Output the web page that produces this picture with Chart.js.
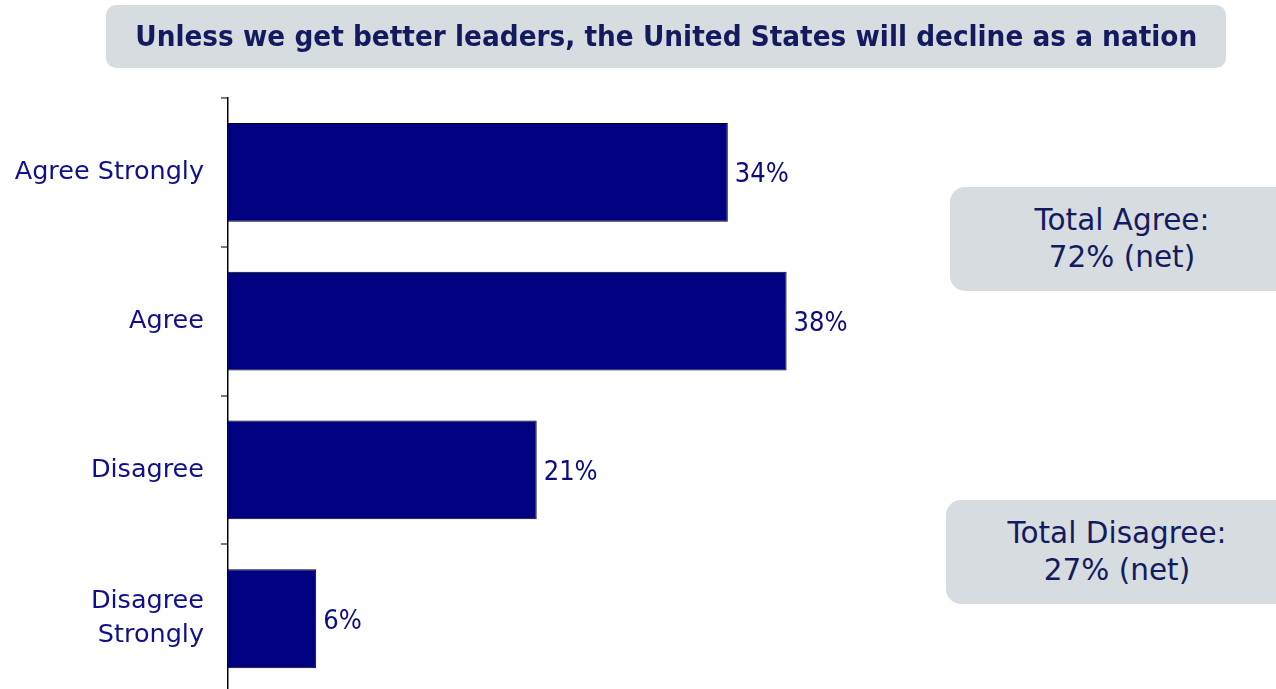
<!DOCTYPE html>
<html>
<head>
<meta charset="utf-8">
<script src="https://cdn.jsdelivr.net/npm/chart.js@4"></script>
<style>
  html, body { margin: 0; padding: 0; background: #fff; overflow: hidden; }
  #wrap { position: relative; width: 1276px; height: 727px; }
  #chart { position: absolute; left: 0; top: 0; }
  .box {
    position: absolute; background: #d7dce0; color: #131b5e;
    font-family: 'DejaVu Sans', sans-serif;
    text-align: center; box-sizing: border-box;
  }
  #title {
    left: 106px; top: 5px; width: 1120px; height: 63px; border-radius: 10px;
    font-family: 'DejaVu Sans Condensed', 'DejaVu Sans', sans-serif;
    font-weight: bold; font-size: 29px; line-height: 63px; white-space: nowrap;
  }
  #title span { display: inline-block; transform-origin: center; }
  .side {
    width: 330px; height: 104px; border-radius: 15px 0 0 15px;
    font-size: 29.5px; line-height: 37px; padding-top: 15px;
  }
</style>
</head>
<body>
<div id="wrap">
  <canvas id="chart" width="1276" height="727"></canvas>
  <div class="box" id="title"><span id="titleText">Unless we get better leaders, the United States will decline as a nation</span></div>
  <div class="box side" style="left:950px; top:187px; padding-left:14px;">Total Agree:<br>72% (net)</div>
  <div class="box side" style="left:946px; top:500px; padding-left:12px;">Total Disagree:<br>27% (net)</div>
</div>
<script>
var categories = [['Agree Strongly'], ['Agree'], ['Disagree'], ['Disagree', 'Strongly']];
var values = [34, 38, 21, 6];
var valueLabels = ['34%', '38%', '21%', '6%'];

// squeeze the title to the width it has in the slide
var t = document.getElementById('titleText');
t.style.transform = 'scaleX(' + (1062 / t.getBoundingClientRect().width) + ')';

// write the percentage right of each bar
var valuePlugin = {
    id: 'valueLabels',
    afterDatasetsDraw: function(chart) {
        var ctx = chart.ctx;
        var meta = chart.getDatasetMeta(0);
        ctx.save();
        ctx.font = "27px 'DejaVu Sans Condensed', 'DejaVu Sans', sans-serif";
        ctx.fillStyle = '#0c0c80';
        ctx.textBaseline = 'middle';
        ctx.textAlign = 'left';
        meta.data.forEach(function(bar, i) {
            ctx.fillText(valueLabels[i], bar.x + 7, bar.y + 3);
        });
        ctx.restore();
    }
};

var ctx = document.getElementById('chart').getContext('2d');
var chart = new Chart(ctx, {
    type: 'bar',
    data: {
        labels: categories,
        datasets: [{
            data: values,
            backgroundColor: '#000080',
            borderColor: '#000000',
            borderWidth: 1,
            barPercentage: 0.665,
            categoryPercentage: 1
        }]
    },
    options: {
        indexAxis: 'y',
        responsive: false,
        animation: false,
        layout: { padding: { top: 98, right: 166, bottom: 0, left: 0 } },
        plugins: { legend: { display: false }, tooltip: { enabled: false } },
        scales: {
            x: { display: false, min: 0, max: 60 },
            y: {
                afterFit: function(scale) { scale.width = 228; },
                border: { display: true, color: '#000000', width: 1.5 },
                grid: { drawOnChartArea: false, drawTicks: true, tickLength: 7, color: '#7a7a7a', lineWidth: 2 },
                ticks: {
                    color: '#10108a',
                    padding: 17,
                    font: { family: "'DejaVu Sans', sans-serif", size: 25.5, lineHeight: 1.33 }
                }
            }
        }
    },
    plugins: [valuePlugin]
});
</script>
</body>
</html>
